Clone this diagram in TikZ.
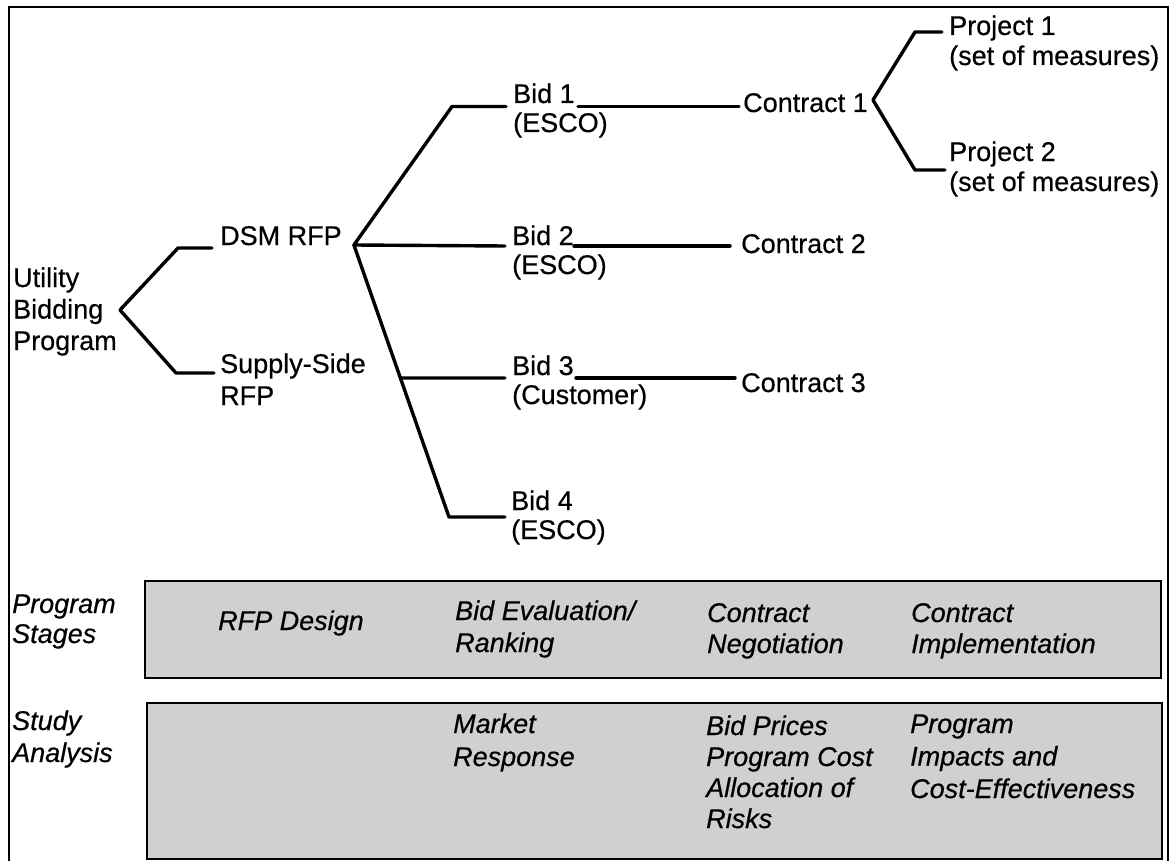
\documentclass[tikz,border=0pt]{standalone}
\usepackage{fontspec}
\setmainfont{Liberation Sans}[FakeBold=0.5]
\usetikzlibrary{calc}
\definecolor{boxgray}{RGB}{208,208,208}
\newcommand\stk[2]{\vtop{\baselineskip=#1\relax\lineskiplimit=-100pt\lineskip=0pt\halign{##\hfil\cr#2\crcr}}}
\begin{document}
\begin{tikzpicture}[x=1pt,y=-1pt,
  txt/.style={anchor=base west, inner sep=0pt, font=\fontsize{27}{31}\selectfont},
  itx/.style={anchor=base west, inner sep=0pt, font=\fontsize{27}{31}\selectfont\itshape},
  branch/.style={line width=3.4pt, line join=round, line cap=round},
  stagebox/.style={draw=black, line width=1.6pt, fill=boxgray, anchor=north west, inner sep=0pt}]
\useasboundingbox (0,0) rectangle (1174,861);
% frame
\draw[line width=2.2pt] (9,861) -- (9,7) -- (1168,7) -- (1168,861);

% tree texts
\node[txt] (util) at (13,287) {\stk{31.5pt}{Utility\cr Bidding\cr Program}};
\node[txt] (dsm) at (220,245) {DSM RFP};
\node[txt] (supply) at (220,373) {\stk{32pt}{Supply-Side\cr RFP}};
\node[txt] (bid1) at (513,103) {\stk{29pt}{Bid 1\cr(ESCO)}};
\node[txt] (bid2) at (512,245) {\stk{29pt}{Bid 2\cr(ESCO)}};
\node[txt] (bid3) at (512,375) {\stk{29pt}{Bid 3\cr(Customer)}};
\node[txt] (bid4) at (511,510) {\stk{29pt}{Bid 4\cr(ESCO)}};
\node[txt] (con1) at (743,112) {Contract 1};
\node[txt] (con2) at (741,253) {Contract 2};
\node[txt] (con3) at (741,392) {Contract 3};
\node[txt] (proj1) at (949,35) {\stk{30pt}{Project 1\cr(set of measures)}};
\node[txt] (proj2) at (949,161) {\stk{30pt}{Project 2\cr(set of measures)}};

% tree connectors
\coordinate (uv) at (120,310);
\draw[branch] ([xshift=-8pt,yshift=-3pt]dsm.base west) -- (178,248) -- (uv) -- (176,373) -- ([xshift=-6pt]supply.base west);
\coordinate (dv) at ([xshift=12pt]dsm.base east);
\coordinate (d4) at (449,517);
\draw[branch] ([xshift=-7pt,yshift=-3.5pt]bid1.base west) -- (452,106.5) -- (dv) -- ([xshift=-7pt,yshift=-1pt]bid2.base west);
\draw[branch] (dv) -- (d4) -- ([xshift=-6pt,yshift=-7pt]bid4.base west);
\coordinate (b3) at ($(dv)!0.489!(d4)$);
\draw[branch] (b3) -- ([xshift=-7pt,yshift=-3pt]bid3.base west);
\coordinate (b1e) at (578,106.5);
\coordinate (b2e) at (574,246);
\coordinate (b3e) at (576,378);
\draw[branch] (b1e) -- ([xshift=-4pt,yshift=5.5pt]con1.base west);
\draw[branch] (b2e) -- ([xshift=-11pt,yshift=7pt]con2.base west);
\draw[branch] (b3e) -- ([xshift=-6pt,yshift=14pt]con3.base west);
\coordinate (cv) at ([xshift=5pt,yshift=12pt]con1.base east);
\draw[branch] ([xshift=-7pt,yshift=3pt]proj1.base west) -- (915,32) -- (cv) -- (915,170) -- ([xshift=-4pt,yshift=-9pt]proj2.base west);

% stage boxes
\node[stagebox, minimum width=1016pt, minimum height=97pt] (stages) at (144,580) {};
\node[stagebox, minimum width=1015pt, minimum height=156pt] (study) at (146,702) {};

% row labels
\node[itx] (lstage) at (12,613) {\stk{30pt}{Program\cr Stages}};
\node[itx] (lstudy) at (12,730) {\stk{32pt}{Study\cr Analysis}};

% program stages texts
\node[itx] (s1) at (218,630) {RFP Design};
\node[itx] (s2) at (455,620) {\stk{32pt}{Bid Evaluation/\cr Ranking}};
\node[itx] (s3) at (707,622) {\stk{31pt}{Contract\cr Negotiation}};
\node[itx] (s4) at (911,622) {\stk{31pt}{Contract\cr Implementation}};

% study analysis texts
\node[itx] (a2) at (453,733) {\stk{33pt}{Market\cr Response}};
\node[itx] (a3) at (706,735) {\stk{31pt}{Bid Prices\cr Program Cost\cr Allocation of\cr Risks}};
\node[itx] (a4) at (910,733) {\stk{32.5pt}{Program\cr Impacts and\cr Cost-Effectiveness}};
\end{tikzpicture}
\end{document}
